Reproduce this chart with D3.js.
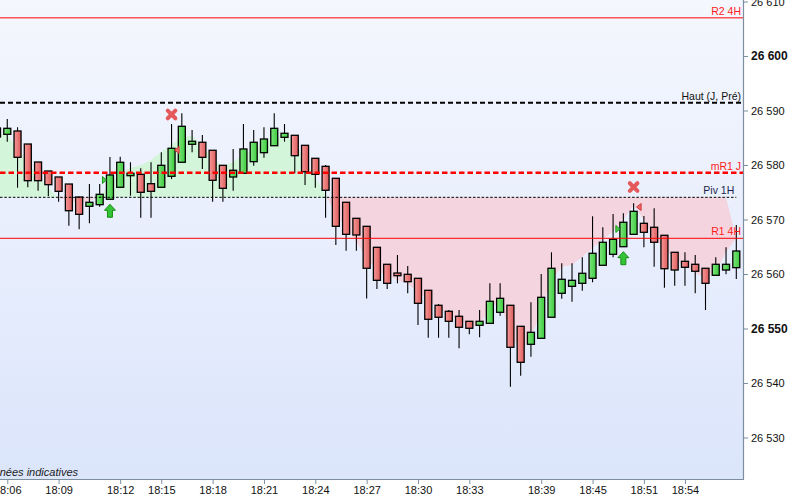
<!DOCTYPE html>
<html><head><meta charset="utf-8">
<script src="https://cdn.jsdelivr.net/npm/d3@7"></script>
<style>
body{margin:0;background:#fff;}
text{font-family:"Liberation Sans",Arial,sans-serif;}
</style>
</head><body>
<svg id="chart" width="792" height="499"></svg>
<script>
// ---------- DATA ----------
const opens  = [26585.14,26585.63,26586.24,26583.85,26580.55,26578.90,26577.80,26576.51,26574.13,26572.42,
                26572.72,26573.71,26575.91,26578.04,26578.29,26576.57,26575.91,26577.93,26580.50,26583.80,
                26584.17,26582.70,26579.94,26577.80,26578.48,26580.61,26582.26,26583.54,26585.08,26585.45,
                26583.61,26581.23,26579.76,26577.56,26573.16,26570.22,26568.75,26564.90,26561.78,26560.18,
                26559.94,26559.21,26557.01,26554.26,26553.16,26552.24,26551.32,26550.59,26550.95,26552.97,
                26554.26,26550.40,26547.10,26548.20,26552.06,26556.46,26557.74,26558.29,26559.21,26561.60,
                26563.61,26565.01,26567.28,26569.30,26568.57,26567.10,26563.98,26562.33,26561.78,26561.05,
                26559.76,26560.73,26561.16];
const highs  = [26587.50,26588.44,26586.92,26583.85,26580.55,26578.90,26577.80,26576.51,26574.13,26576.51,
                26576.51,26581.47,26581.52,26580.50,26579.39,26580.50,26582.33,26587.52,26589.49,26586.42,
                26585.50,26582.70,26579.94,26582.94,26587.52,26586.42,26586.92,26589.49,26587.52,26585.45,
                26583.61,26581.23,26580.00,26577.56,26573.16,26570.22,26568.75,26564.90,26561.78,26563.49,
                26561.47,26559.21,26557.01,26554.50,26553.40,26553.39,26551.32,26553.39,26558.29,26558.29,
                26554.26,26550.40,26554.81,26560.00,26563.98,26561.96,26561.96,26563.06,26570.59,26568.57,
                26571.01,26571.14,26572.97,26570.64,26572.06,26567.10,26563.98,26563.98,26563.49,26561.05,
                26563.06,26564.90,26569.00];
const lows   = [26584.50,26584.28,26575.83,26575.91,26575.28,26574.31,26573.27,26568.86,26568.20,26569.30,
                26572.35,26573.71,26575.91,26574.37,26570.33,26570.33,26575.91,26577.43,26580.50,26582.33,
                26579.27,26573.27,26573.27,26575.28,26578.48,26579.87,26581.34,26583.54,26584.28,26578.48,
                26576.33,26575.83,26570.33,26565.32,26564.28,26564.28,26555.50,26557.25,26557.25,26558.29,
                26556.46,26550.64,26548.31,26548.31,26548.31,26546.37,26548.94,26548.39,26550.95,26552.35,
                26539.32,26541.34,26544.83,26548.20,26552.06,26555.47,26554.92,26556.94,26558.48,26561.60,
                26563.06,26565.01,26567.28,26564.90,26561.34,26557.49,26557.85,26557.85,26556.46,26553.39,
                26559.76,26559.94,26559.08];
const closes = [26586.79,26586.73,26581.41,26577.12,26577.12,26576.39,26575.17,26571.61,26570.95,26573.16,
                26574.62,26578.17,26580.50,26578.48,26574.99,26575.17,26579.94,26583.06,26587.10,26584.35,
                26581.41,26577.19,26575.72,26579.03,26582.94,26584.17,26584.77,26586.73,26585.82,26581.71,
                26578.77,26578.29,26575.36,26568.75,26567.28,26567.16,26561.05,26558.84,26558.29,26559.69,
                26558.59,26554.62,26551.69,26552.06,26551.32,26550.22,26550.04,26551.32,26554.99,26555.54,
                26546.55,26543.80,26549.30,26555.72,26561.05,26559.03,26558.84,26560.13,26563.80,26565.82,
                26566.37,26569.49,26571.50,26567.65,26565.82,26560.97,26560.73,26561.23,26560.50,26558.29,
                26561.78,26561.78,26564.22];

// zone between the 1H pivot and a smoothed price curve
const zoneCurve = [26585.87,26585.50,26583.12,26580.37,26577.98,26575.78,26573.94,26573.39,26573.03,26573.39,
                   26574.31,26576.33,26578.72,26579.45,26580.00,26580.92,26582.39,26583.67,26585.14,26585.32,
                   26583.49,26581.28,26579.82,26580.55,26581.83,26583.12,26584.04,26584.95,26585.32,26584.22,
                   26580.92,26577.61,26574.50,26571.01,26568.44,26565.87,26562.94,26560.55,26559.63,26558.90,
                   26558.17,26556.70,26555.23,26553.76,26552.48,26551.56,26550.46,26550.46,26553.76,26554.86,
                   26548.81,26545.69,26548.26,26553.39,26558.90,26561.28,26561.65,26563.12,26564.77,26566.42,
                   26567.71,26569.91,26572.66,26569.91,26566.61,26564.40,26562.94,26561.47,26560.18,26559.27,
                   26560.37,26564.04,26566.61];
const zoneBase  = [26574.07,26574.07,26574.07,26574.07,26574.07,26574.07,26574.07,26574.07,26574.07,26574.07,
                   26574.07,26574.07,26574.07,26574.07,26574.07,26574.07,26574.07,26574.07,26574.07,26574.07,
                   26574.07,26574.07,26574.07,26574.07,26574.07,26574.07,26574.07,26574.07,26574.07,26574.07,
                   26574.07,26574.07,26574.07,26574.07,26574.07,26574.07,26574.07,26574.07,26574.07,26574.07,
                   26574.07,26574.07,26574.07,26574.07,26574.07,26574.07,26574.07,26574.07,26574.07,26574.07,
                   26574.07,26574.07,26574.07,26574.07,26574.07,26574.07,26574.07,26574.07,26574.07,26574.07,
                   26574.07,26574.07,26574.07,26574.07,26574.07,26574.07,26574.07,26574.07,26574.07,26574.07,
                   26574.07,26574.07,26566.61];

const timeTickIdx    = [1,6,12,16,21,26,31,36,41,46,53,58,63,67];
const timeTickLabels = ["18:06","18:09","18:12","18:15","18:18","18:21","18:24","18:27","18:30","18:33","18:39","18:45","18:51","18:54"];
const priceTicks     = [26530,26540,26550,26560,26570,26580,26590,26600,26610];

const levelNames  = ["R2 4H","Haut (J, Pré)","mR1 J","Piv 1H","R1 4H"];
const levelValues = [26607.0, 26591.43, 26578.59, 26574.07, 26566.55];

const buyIdx        = [11, 61];
const buyTriPrice   = [26577.25, 26568.26];
const sellIdx       = [17, 62];
const sellTriPrice  = [26582.75, 26572.29];
const sellMarkPrice = [26589.27, 26575.96];

const footnote = "Données indicatives";

// ---------- LAYOUT / STYLE ----------
const W = 792, H = 499, plotR = 743, plotB = 479;
const levelStyle = {
  "R2 4H":        {color:"#ff0000", width:1,   dash:null,      text:"#ff1a1a", full:true},
  "Haut (J, Pré)":{color:"#000000", width:2,   dash:"5,3",     text:"#111111", full:true},
  "mR1 J":        {color:"#ff0000", width:2.5, dash:"5.5,3",   text:"#ff1a1a", full:true},
  "Piv 1H":       {color:"#000000", width:1,   dash:"2.5,1.8", text:"#1c1f4d", full:false},
  "R1 4H":        {color:"#ff0000", width:1,   dash:null,      text:"#ff1a1a", full:true}
};

const svg = d3.select("#chart");
const defs = svg.append("defs");

const bg = defs.append("linearGradient").attr("id","bg").attr("x1",0).attr("y1",0).attr("x2",0).attr("y2",1);
bg.append("stop").attr("offset","0%").attr("stop-color","#f5f7fe");
bg.append("stop").attr("offset","100%").attr("stop-color","#dbe5fb");

const gUp = defs.append("linearGradient").attr("id","gUp").attr("x1",0).attr("y1",0).attr("x2",1).attr("y2",0);
gUp.append("stop").attr("offset","0%").attr("stop-color","#7fe57f");
gUp.append("stop").attr("offset","100%").attr("stop-color","#3ccb3c");
const gDn = defs.append("linearGradient").attr("id","gDn").attr("x1",0).attr("y1",0).attr("x2",1).attr("y2",0);
gDn.append("stop").attr("offset","0%").attr("stop-color","#f79a9a");
gDn.append("stop").attr("offset","100%").attr("stop-color","#de5c5c");

defs.append("clipPath").attr("id","plotClip").append("rect")
  .attr("x",0).attr("y",0).attr("width",plotR).attr("height",plotB);

const idx = d3.range(opens.length);
const x = d3.scaleLinear().domain([0, opens.length-1]).range([-3, 736.3]);
const y = d3.scaleLinear().domain([26522.385, 26610.275]).range([plotB, 0]);

svg.append("rect").attr("x",0).attr("y",0).attr("width",plotR).attr("height",plotB).attr("fill","url(#bg)");

const plot = svg.append("g").attr("clip-path","url(#plotClip)");

// zones
const clipAbove = d3.area().x(i=>x(i)).y0(-10).y1(i=>y(zoneBase[i]));
const clipBelow = d3.area().x(i=>x(i)).y0(i=>y(zoneBase[i])).y1(plotB+10);
defs.append("clipPath").attr("id","above").append("path").attr("d", clipAbove(idx));
defs.append("clipPath").attr("id","below").append("path").attr("d", clipBelow(idx));
const zoneArea = d3.area().x(i=>x(i)).y0(i=>y(zoneBase[i])).y1(i=>y(zoneCurve[i]));
plot.append("g").attr("clip-path","url(#above)").append("path")
  .attr("d", zoneArea(idx)).attr("fill","#d3f6da").attr("shape-rendering","crispEdges");
plot.append("g").attr("clip-path","url(#below)").append("path")
  .attr("d", zoneArea(idx)).attr("fill","#f4d4de").attr("shape-rendering","crispEdges");

// candles
const bw = 7;
const cg = plot.append("g");
cg.selectAll("line.wick").data(idx).join("line").attr("class","wick")
  .attr("x1",i=>x(i)).attr("x2",i=>x(i))
  .attr("y1",i=>y(highs[i])).attr("y2",i=>y(lows[i]))
  .attr("stroke","#000").attr("stroke-width",1.1);
cg.selectAll("rect.body").data(idx).join("rect").attr("class","body")
  .attr("x",i=>x(i)-bw/2).attr("width",bw)
  .attr("y",i=>y(Math.max(opens[i],closes[i])))
  .attr("height",i=>Math.max(1, Math.abs(y(opens[i])-y(closes[i]))))
  .attr("fill",i=>closes[i]>=opens[i]?"url(#gUp)":"url(#gDn)")
  .attr("stroke","#000").attr("stroke-width",1.3);

// level lines
levelNames.forEach((n,k)=>{
  const s = levelStyle[n];
  const yy = y(levelValues[k]);
  const xEnd = s.full ? plotR : x(opens.length-1);
  plot.append("line").attr("x1",0).attr("x2",xEnd).attr("y1",yy).attr("y2",yy)
    .attr("stroke",s.color).attr("stroke-width",s.width)
    .attr("stroke-dasharray",s.dash);
  plot.append("text").attr("x",xEnd-2).attr("y",yy-3).attr("text-anchor","end")
    .attr("font-size","10.5px").attr("fill",s.text).text(n);
});

// signals
const mg = plot.append("g");
buyIdx.forEach((i,k)=>{
  const cx = x(i), top = y(lows[i]) + 5;
  mg.append("path").attr("d",`M${cx},${top} L${cx+5.5},${top+6} L${cx+2.5},${top+6} L${cx+2.5},${top+13} L${cx-2.5},${top+13} L${cx-2.5},${top+6} L${cx-5.5},${top+6} Z`)
    .attr("fill","#35c435").attr("stroke","#168c16").attr("stroke-width",1);
  const ty = y(buyTriPrice[k]);
  mg.append("path").attr("d",`M${cx-7.5},${ty-3.5} L${cx-3.5},${ty} L${cx-7.5},${ty+3.5} Z`)
    .attr("fill","#4ccf4c").attr("stroke","#1c9a1c").attr("stroke-width",1);
});
sellIdx.forEach((i,k)=>{
  const cx = x(i), my = y(sellMarkPrice[k]);
  mg.append("path").attr("d",`M${cx-3.8},${my-3.8} L${cx+3.8},${my+3.8} M${cx+3.8},${my-3.8} L${cx-3.8},${my+3.8}`)
    .attr("stroke","#e45a5a").attr("stroke-width",4).attr("stroke-linecap","round").attr("fill","none");
  const ty = y(sellTriPrice[k]);
  mg.append("path").attr("d",`M${cx+7.5},${ty-3.5} L${cx+3},${ty} L${cx+7.5},${ty+3.5} Z`)
    .attr("fill","#ec6a6a").attr("stroke","#cc3a3a").attr("stroke-width",1);
});

// footnote
plot.append("text").attr("x",78).attr("y",476).attr("text-anchor","end")
  .attr("font-size","11px").attr("font-style","italic").attr("fill","#222").text(footnote);

// axes
const axisColor = "#7d8e9e";
const yAxis = d3.axisRight(y).tickValues(priceTicks).tickSize(5).tickSizeOuter(0).tickPadding(3)
  .tickFormat(d=>d3.format(",")(d).replace(",", " "));
const ya = svg.append("g").attr("transform",`translate(${plotR},0)`).call(yAxis);
ya.select(".domain").remove();
ya.selectAll(".tick line").attr("stroke",axisColor);
ya.selectAll(".tick text").attr("fill","#111")
  .attr("font-family","'Liberation Sans',Arial,sans-serif")
  .attr("font-size",d=>d%50===0?"12px":"11px")
  .attr("font-weight",d=>d%50===0?"bold":"normal");
svg.append("line").attr("x1",plotR+0.5).attr("x2",plotR+0.5).attr("y1",0).attr("y2",plotB)
  .attr("stroke",axisColor).attr("stroke-width",1.2);

const xAxis = d3.axisBottom(x).tickValues(timeTickIdx).tickSize(5).tickSizeOuter(0).tickPadding(2)
  .tickFormat(i=>timeTickLabels[timeTickIdx.indexOf(i)]);
const xa = svg.append("g").attr("transform",`translate(0,${plotB})`).call(xAxis);
xa.select(".domain").remove();
xa.selectAll(".tick line").attr("stroke",axisColor);
xa.selectAll(".tick text").attr("fill","#111")
  .attr("font-family","'Liberation Sans',Arial,sans-serif").attr("font-size","11px");
svg.append("line").attr("x1",0).attr("x2",plotR+1).attr("y1",plotB+0.5).attr("y2",plotB+0.5)
  .attr("stroke",axisColor).attr("stroke-width",1.2);
</script>
</body></html>
